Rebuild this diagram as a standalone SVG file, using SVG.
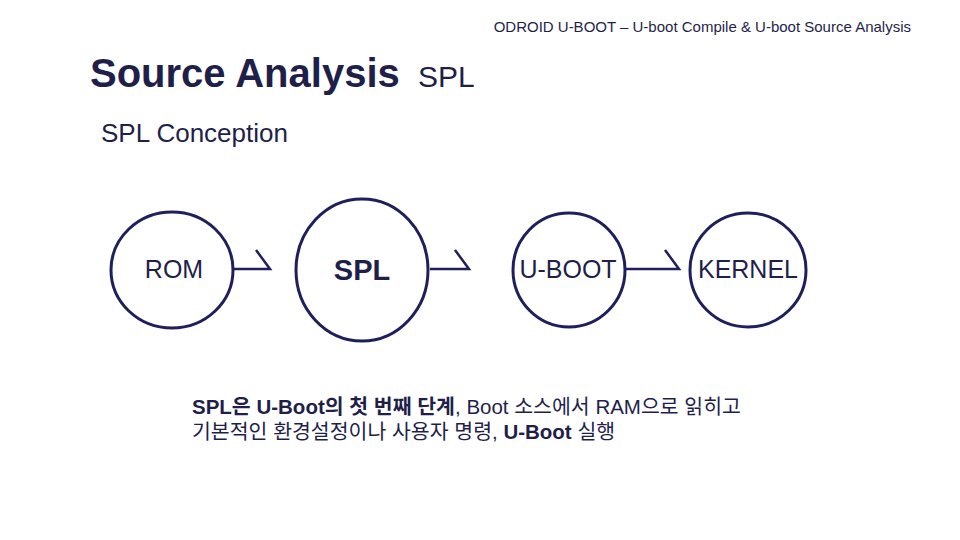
<svg xmlns="http://www.w3.org/2000/svg" width="960" height="540" viewBox="0 0 960 540">
<style>
.t{font-family:"Liberation Sans","Noto Sans CJK KR",sans-serif;fill:#1f1f4a}
.c{fill:none;stroke:#1f1f5c;stroke-width:3}
.a{fill:none;stroke:#1f1f5c;stroke-width:2.5}
</style>
<rect width="960" height="540" fill="#fff"/>
<text class="t" x="911" y="32" font-size="15" text-anchor="end" fill="#222">ODROID U-BOOT – U-boot Compile &amp; U-boot Source Analysis</text>
<text class="t" x="90" y="87" font-size="40" font-weight="bold">Source Analysis</text>
<text class="t" x="418" y="87" font-size="30">SPL</text>
<text class="t" x="101" y="142" font-size="26">SPL Conception</text>
<g id="rom"><ellipse class="c" cx="172" cy="270" rx="61" ry="58"/><text class="t" x="174" y="278" font-size="25" text-anchor="middle">ROM</text></g>
<g id="spl"><ellipse class="c" cx="362" cy="270" rx="66" ry="71" stroke-width="5"/><text class="t" x="362" y="280" font-size="29" font-weight="bold" text-anchor="middle">SPL</text></g>
<g id="uboot"><ellipse class="c" cx="569" cy="270" rx="56" ry="57"/><text class="t" x="568" y="278" font-size="25" text-anchor="middle">U-BOOT</text></g>
<g id="kernel"><ellipse class="c" cx="748" cy="270" rx="58" ry="57"/><text class="t" x="748" y="278" font-size="25" text-anchor="middle">KERNEL</text></g>
<g id="connectors">
<path class="a" d="M233 269H270L256 250"/>
<path class="a" d="M430 269H469L455 250"/>
<path class="a" d="M626 269H679L665 250"/>
</g>
<g id="desc">
<text class="t" x="192" y="414" font-size="20.5"><tspan font-weight="bold">SPL은 U-Boot의 첫 번째 단계</tspan>, Boot 소스에서 RAM으로 읽히고</text>
<text class="t" x="192" y="439" font-size="20.5">기본적인 환경설정이나 사용자 명령, <tspan font-weight="bold">U-Boot</tspan> 실행</text>
</g>
</svg>
